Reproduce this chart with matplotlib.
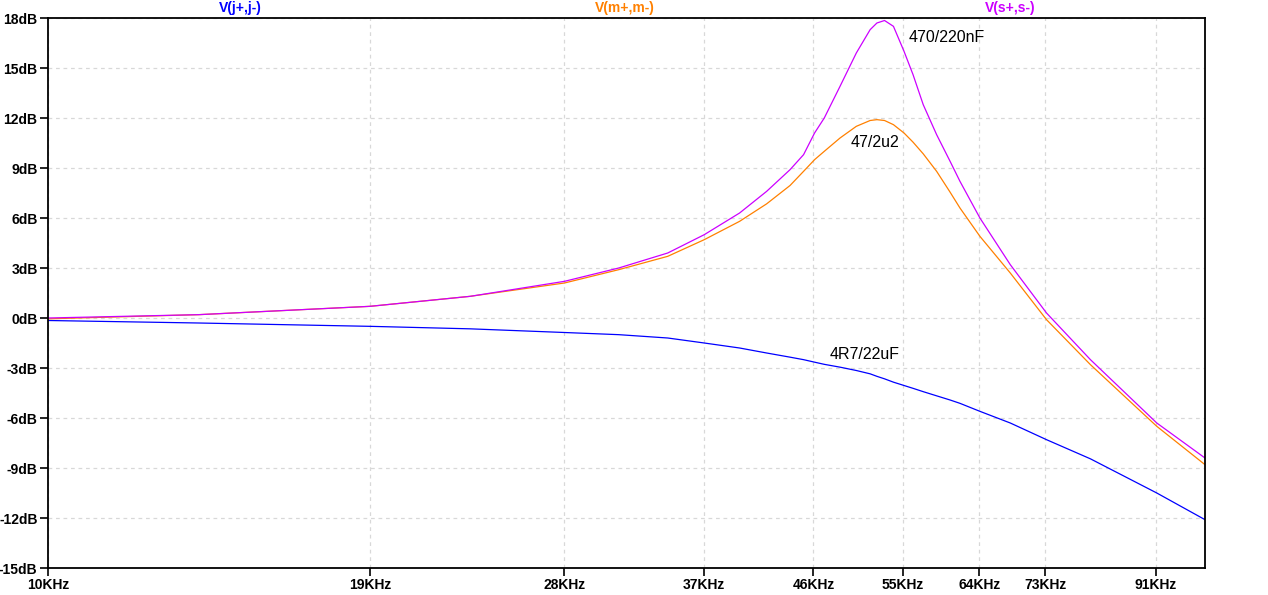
import matplotlib
matplotlib.use("Agg")
import matplotlib.pyplot as plt
from matplotlib.ticker import FixedLocator, NullLocator

# frequency points (kHz)
freq_khz = [10, 13.5, 19, 23.2, 28, 31.2, 34.4, 37, 39.7, 41.9, 43.9, 45.1, 46.1,
            47.0, 48.5, 50.1, 51.5, 52.2, 53.0, 53.95, 55.1, 56.1, 57.25, 58.8,
            60.4, 61.6, 64.1, 68.1, 73.2, 79.9, 91.2, 100.4]

# V(s+,s-)  470/220nF
db_s = [0.0, 0.2, 0.7, 1.3, 2.2, 3.0, 3.9, 5.0, 6.3, 7.6, 8.9, 9.8, 11.1,
        12.0, 13.9, 15.9, 17.3, 17.7, 17.85, 17.5, 16.0, 14.6, 12.8, 11.0,
        9.4, 8.2, 6.0, 3.2, 0.3, -2.5, -6.3, -8.4]
# V(m+,m-)  47/2u2
db_m = [-0.05, 0.2, 0.7, 1.3, 2.1, 2.9, 3.7, 4.7, 5.8, 6.85, 7.95, 8.8, 9.5,
        10.0, 10.8, 11.5, 11.85, 11.9, 11.85, 11.6, 11.1, 10.55, 9.85, 8.8,
        7.55, 6.6, 4.9, 2.7, -0.1, -2.8, -6.5, -8.8]
# V(j+,j-)  4R7/22uF
db_j = [-0.15, -0.3, -0.5, -0.65, -0.87, -1.0, -1.2, -1.5, -1.8, -2.1, -2.35, -2.5, -2.65,
        -2.78, -2.95, -3.15, -3.35, -3.5, -3.65, -3.85, -4.05, -4.22, -4.42, -4.67,
        -4.92, -5.12, -5.6, -6.3, -7.3, -8.45, -10.5, -12.1]

x_ticks = [10, 19, 28, 37, 46, 55, 64, 73, 91]
x_labels = ['10KHz', '19KHz', '28KHz', '37KHz', '46KHz', '55KHz', '64KHz', '73KHz', '91KHz']
y_ticks = [18, 15, 12, 9, 6, 3, 0, -3, -6, -9, -12, -15]
y_labels = [f'{v}dB' for v in y_ticks]

c_j = '#0000ff'
c_m = '#ff8000'
c_s = '#cc00ff'

fig = plt.figure(figsize=(12.68, 5.95), dpi=100)
ax = fig.add_axes([48 / 1268, 27 / 595, 1157 / 1268, 550 / 595])

freq = [f * 1000 for f in freq_khz]
ax.plot(freq, db_j, color=c_j, lw=0.9)
ax.plot(freq, db_m, color=c_m, lw=0.9)
ax.plot(freq, db_s, color=c_s, lw=0.9)

ax.set_xscale('log')
ax.set_xlim(10000, 100400)
ax.set_ylim(-15, 18)
ax.xaxis.set_major_locator(FixedLocator([t * 1000 for t in x_ticks]))
ax.xaxis.set_minor_locator(NullLocator())
ax.set_xticklabels(x_labels)
ax.set_yticks(y_ticks)
ax.set_yticklabels(y_labels)

ax.grid(True, color='#d8d8d8', linestyle=(0, (3, 3)), linewidth=0.9)
ax.set_axisbelow(True)
for s in ax.spines.values():
    s.set_linewidth(1.3)
ax.tick_params(direction='out', length=6, width=1.2, pad=1.5, labelsize=10)
for lab in ax.get_xticklabels() + ax.get_yticklabels():
    lab.set_fontweight('bold')
    lab.set_family('Liberation Sans')

# trace names above the plot
top = 1 - 8 / 595
fig.text(240 / 1268, top, 'V(j+,j-)', color=c_j, fontsize=10, fontweight='bold',
         family='Liberation Sans', ha='center', va='center')
fig.text(625 / 1268, top, 'V(m+,m-)', color=c_m, fontsize=10, fontweight='bold',
         family='Liberation Sans', ha='center', va='center')
fig.text(1010 / 1268, top, 'V(s+,s-)', color=c_s, fontsize=10, fontweight='bold',
         family='Liberation Sans', ha='center', va='center')

# curve labels
ax.text(55660, 16.85, '470/220nF', fontsize=11.5, family='Liberation Sans', va='center')
ax.text(49500, 10.55, '47/2u2', fontsize=11.5, family='Liberation Sans', va='center')
ax.text(47460, -2.2, '4R7/22uF', fontsize=11.5, family='Liberation Sans', va='center')

fig.savefig('out.png', dpi=100)
